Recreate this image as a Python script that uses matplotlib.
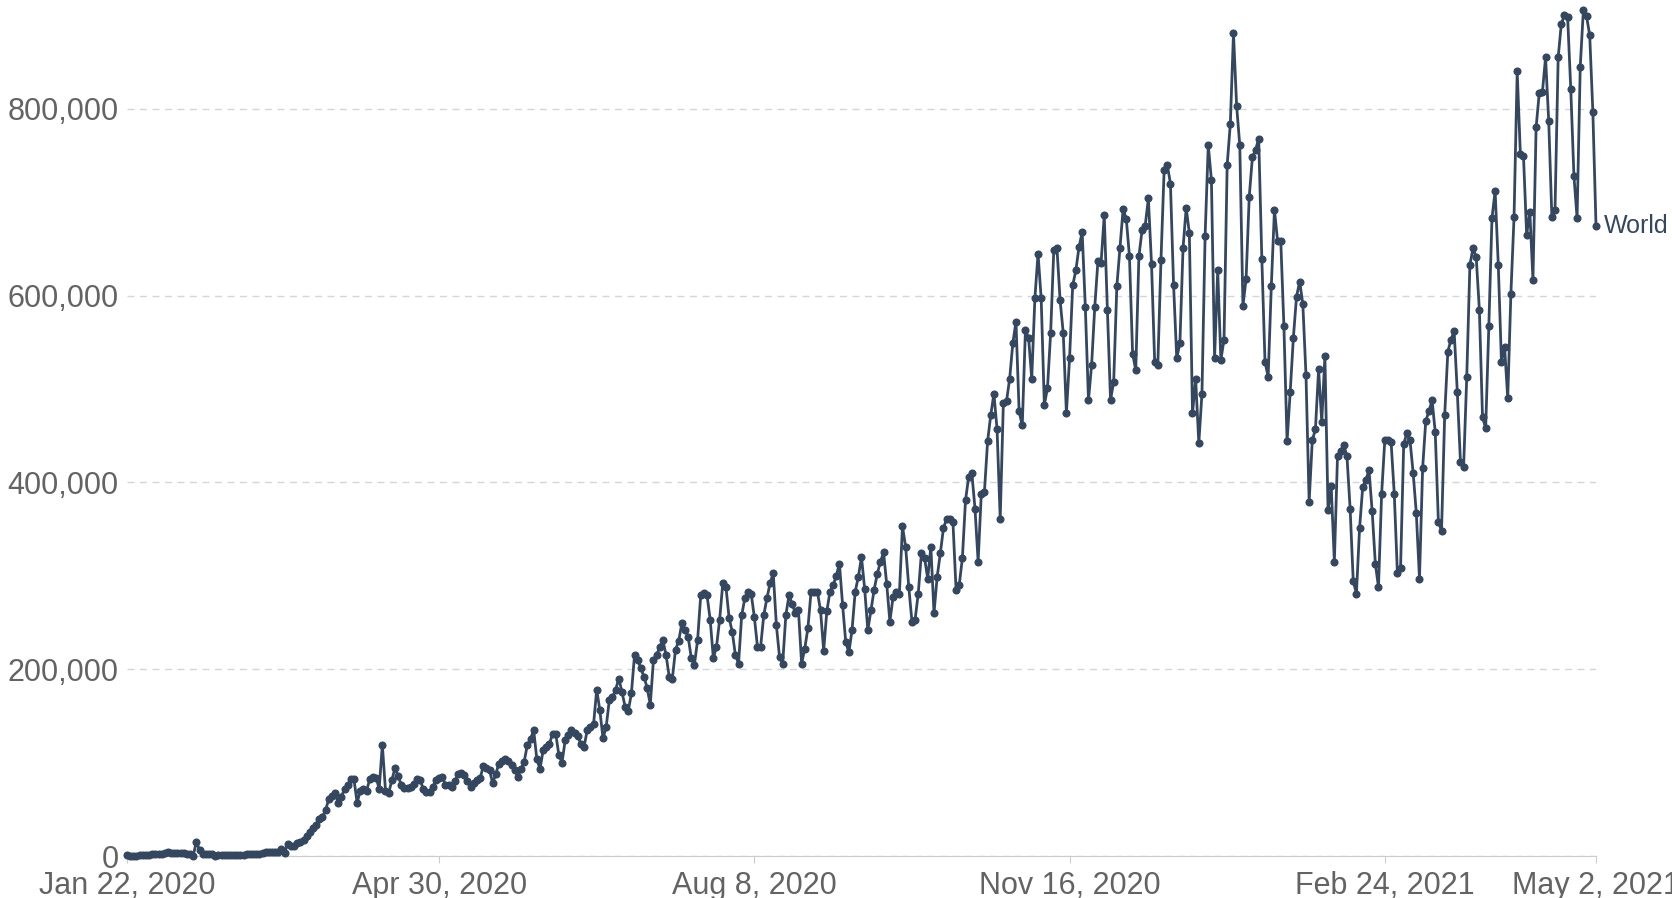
import numpy as np
import pandas as pd
import matplotlib
matplotlib.use("Agg")
import matplotlib.pyplot as plt
import matplotlib.ticker as mticker

# Daily new confirmed cases, in thousands, one row per week (rows start on Wednesdays)
start_date = "2020-01-22"
cases_k = [
    0.6, 0.1, 0.3, 0.5, 0.7, 0.8, 1.4,
    1.2, 1.8, 2.1, 2.1, 2.6, 3.2, 3.9,
    3.7, 3.2, 3.4, 2.7, 3.0, 2.5, 2.0,
    0.4, 15.1, 6.5, 2.1, 2.0, 1.9, 1.8,
    0.4, 0.6, 1.0, 1.0, 0.6, 0.6, 0.9,
    1.0, 1.3, 1.6, 1.8, 1.8, 1.9, 2.5,
    2.2, 2.8, 3.9, 3.9, 3.9, 3.8, 4.8,
    7.3, 3.5, 13.0, 10.5, 11.0, 13.5, 15.5,
    17.5, 21.0, 26.0, 30.0, 33.0, 40.0, 42.0,
    49.0, 61.0, 64.0, 67.0, 57.0, 63.0, 72.0,
    76.0, 82.0, 82.0, 57.0, 70.0, 72.0, 70.0,
    82.0, 85.0, 84.0, 72.0, 119.0, 70.0, 67.0,
    81.0, 94.0, 86.0, 76.0, 73.0, 73.0, 74.0,
    77.0, 82.0, 81.0, 72.0, 69.0, 69.0, 74.0,
    81.0, 84.0, 85.0, 76.0, 76.0, 74.0, 80.0,
    88.0, 89.0, 87.0, 80.0, 74.0, 78.0, 81.0,
    83.0, 96.0, 94.0, 92.0, 78.0, 88.0, 99.0,
    102, 104, 102, 97, 92, 85, 93,
    101, 119, 125, 135, 104, 93, 113,
    117, 120, 131, 131, 108, 100, 124,
    130, 135, 132, 128, 120, 117, 135,
    138, 141, 178, 156, 126, 138, 167,
    170, 178, 190, 176, 160, 155, 174,
    215, 210, 201, 192, 180, 162, 210,
    215, 224, 231, 215, 192, 190, 221,
    230, 249, 242, 235, 212, 205, 231,
    279, 282, 279, 253, 212, 224, 253,
    292, 288, 255, 240, 215, 206, 258,
    276, 283, 281, 256, 224, 224, 258,
    276, 292, 303, 247, 213, 206, 258,
    279, 270, 260, 263, 206, 222, 244,
    283, 283, 283, 263, 220, 262, 283,
    290, 300, 313, 269, 229, 218, 242,
    283, 299, 320, 286, 242, 263, 285,
    302, 315, 325, 291, 251, 277, 283,
    280, 353, 331, 288, 251, 253, 281,
    324, 319, 297, 331, 260, 299, 324,
    351, 361, 361, 358, 285, 290, 319,
    381, 406, 410, 372, 315, 388, 390,
    444, 472, 495, 457, 361, 485, 487,
    511, 549, 572, 476, 461, 563, 555,
    511, 597, 645, 597, 483, 501, 560,
    649, 651, 595, 560, 474, 533, 611,
    627, 652, 668, 588, 488, 526, 588,
    637, 635, 686, 585, 488, 508, 610,
    651, 693, 682, 642, 538, 520, 642,
    670, 675, 704, 634, 529, 526, 638,
    734, 740, 720, 611, 533, 549, 651,
    694, 667, 474, 511, 442, 495, 664,
    761, 724, 533, 627, 531, 553, 740,
    784, 881, 803, 761, 589, 618, 706,
    748, 756, 768, 639, 529, 513, 610,
    692, 658, 659, 567, 444, 497, 555,
    599, 615, 591, 515, 379, 445, 457,
    521, 465, 535, 370, 396, 315, 428,
    434, 440, 428, 372, 294, 281, 351,
    395, 403, 413, 369, 313, 288, 388,
    445, 445, 443, 388, 303, 308, 441,
    453, 445, 410, 367, 297, 415, 466,
    476, 488, 454, 358, 348, 472, 540,
    553, 562, 497, 422, 416, 513, 633,
    651, 641, 585, 470, 458, 567, 683,
    712, 633, 529, 545, 490, 602, 684,
    840, 752, 749, 665, 690, 617, 780,
    817, 818, 855, 787, 684, 692, 855,
    891, 900, 898, 821, 728, 683, 845,
    906, 899, 879, 797, 675,
]
tick_dates = ["2020-01-22", "2020-04-30", "2020-08-08", "2020-11-16",
              "2021-02-24", "2021-05-02"]
tick_labels = ["Jan 22, 2020", "Apr 30, 2020", "Aug 8, 2020", "Nov 16, 2020",
               "Feb 24, 2021", "May 2, 2021"]
y_ticks = [0, 200000, 400000, 600000, 800000]
series_name = "World"

line_color = "#35475f"
text_color = "#636363"

dates = pd.date_range(start_date, periods=len(cases_k), freq="D")
cases = np.array(cases_k, dtype=float) * 1000

plt.rcParams["font.family"] = ["Liberation Sans", "DejaVu Sans"]

fig = plt.figure(figsize=(16.72, 8.98), dpi=100)
ax = fig.add_axes([127 / 1672, 42 / 898, (1596 - 127) / 1672, 856 / 898])

ax.plot(dates, cases, color=line_color, lw=2.0, marker="o", ms=4.8,
        clip_on=False, zorder=3)
ax.annotate(series_name, xy=(dates[-1], cases[-1]), xytext=(6, 0),
            textcoords="offset points", va="center", ha="left",
            color=line_color, fontsize=18, annotation_clip=False)

ax.set_xlim(dates[0], dates[-1])
ax.set_ylim(0, 916500)
ax.set_yticks(y_ticks)
ax.yaxis.set_major_formatter(mticker.FuncFormatter(lambda v, p: f"{int(v):,}"))
ax.set_xticks(pd.to_datetime(tick_dates))
ax.set_xticklabels(tick_labels)

for side in ["top", "right", "left"]:
    ax.spines[side].set_visible(False)
ax.spines["bottom"].set_color("#cccccc")
ax.yaxis.grid(True, ls=(0, (5, 4)), color="#d6d6d6", lw=1)
ax.set_axisbelow(True)

ax.tick_params(axis="y", length=0, pad=6, labelsize=22, labelcolor=text_color)
ax.tick_params(axis="x", length=5, color="#cccccc", pad=6, labelsize=22,
               labelcolor=text_color)

fig.savefig("out.png", dpi=100)
